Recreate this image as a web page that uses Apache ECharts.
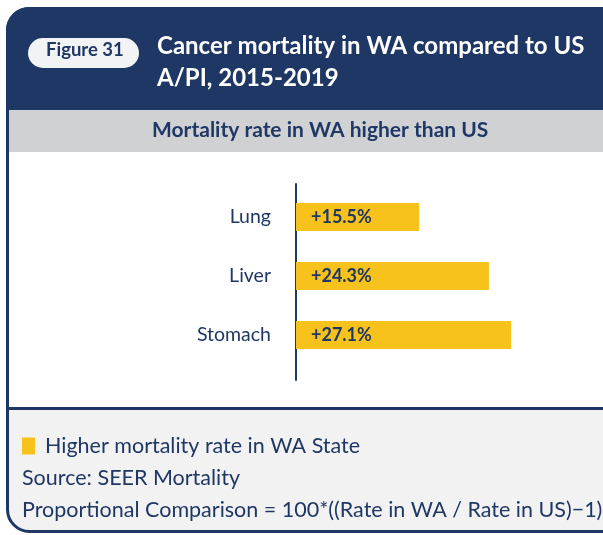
<!DOCTYPE html>
<html>
<head>
<meta charset="utf-8">
<script src="https://cdn.jsdelivr.net/npm/echarts@6/dist/echarts.min.js"></script>
<style>
  html, body { margin: 0; padding: 0; background: #fff; }
  #chart { width: 603px; height: 535px; }
</style>
</head>
<body>
<div id="chart"></div>
<script>
// data
const categories = ['Lung', 'Liver', 'Stomach'];
const values = [15.5, 24.3, 27.1];
const seriesName = 'Higher mortality rate in WA State';

const NAVY = '#1f3765';
const YELLOW = '#f6c21b';
const FONT = 'Lato';

const chart = echarts.init(document.getElementById('chart'));

const option = {
    animation: false,
    textStyle: {fontFamily: FONT},
    graphic: [
        // card frame + footer background
        {type: 'rect', z: -10, shape: {x: 7.5, y: 8.5, width: 660, height: 523, r: 22},
            style: {fill: '#f2f2f2', stroke: NAVY, lineWidth: 3}},
        // header
        {type: 'rect', z: -9, shape: {x: 6, y: 7, width: 660, height: 103, r: [23, 0, 0, 0]},
            style: {fill: NAVY}},
        // grey subtitle band
        {type: 'rect', z: -9, shape: {x: 9, y: 110, width: 660, height: 42},
            style: {fill: '#d0d1d3'}},
        // white plot area
        {type: 'rect', z: -9, shape: {x: 9, y: 152, width: 660, height: 256},
            style: {fill: '#ffffff'}},
        // divider
        {type: 'line', z: -8, shape: {x1: 6, y1: 408.5, x2: 603, y2: 408.5},
            style: {stroke: NAVY, lineWidth: 3}},
        // figure pill
        {type: 'rect', z: -8, shape: {x: 28, y: 38, width: 111, height: 30, r: 15},
            style: {fill: '#f2f3f5'}},
    ],
    title: [
        {
            text: 'Figure 31', left: 46, top: 41, padding: 0,
            textStyle: {color: NAVY, fontSize: 18.5, fontWeight: 'bold', fontFamily: FONT},
        },
        {
            text: 'Cancer mortality in WA compared to US\nA/PI, 2015-2019', left: 157, top: 30, padding: 0,
            textStyle: {color: '#fff', fontSize: 24, fontWeight: 'bold', lineHeight: 32, fontFamily: FONT},
        },
        {
            text: 'Mortality rate in WA higher than US', left: 152, top: 120, padding: 0,
            textStyle: {color: NAVY, fontSize: 21, fontWeight: 'bold', fontFamily: FONT},
        },
        {
            text: 'Source: SEER Mortality\nProportional Comparison = 100*((Rate in WA / Rate in US)\u22121)',
            left: 22, top: 462, padding: 0,
            textStyle: {color: NAVY, fontSize: 21.5, fontWeight: 'normal', lineHeight: 32, fontFamily: FONT},
        },
    ],
    legend: {
        left: 22, top: 435, padding: 0,
        icon: 'rect', itemWidth: 13, itemHeight: 17,
        data: [seriesName],
        textStyle: {color: NAVY, fontSize: 21.5, fontFamily: FONT, padding: [0, 0, 0, 5]},
    },
    grid: [
        {left: 296, top: 187.5, width: 238.2, height: 177},
        {left: 296, top: 184, width: 238.2, height: 196},
    ],
    xAxis: [
        {type: 'value', gridIndex: 0, min: 0, max: 30, show: false},
        {type: 'value', gridIndex: 1, min: 0, max: 30, show: false},
    ],
    yAxis: [
        {
            type: 'category', gridIndex: 0, data: categories, inverse: true,
            axisLine: {show: false}, axisTick: {show: false},
            axisLabel: {margin: 25, color: NAVY, fontSize: 19.5, fontFamily: FONT},
        },
        {
            type: 'value', gridIndex: 1, min: 0, max: 1,
            axisLine: {show: true, lineStyle: {color: NAVY, width: 2}},
            axisTick: {show: false}, axisLabel: {show: false}, splitLine: {show: false},
        },
    ],
    series: [
        {
            name: seriesName,
            type: 'bar',
            xAxisIndex: 0, yAxisIndex: 0,
            data: values,
            barWidth: 28,
            itemStyle: {color: YELLOW},
            label: {
                show: true, position: 'insideLeft', distance: 15,
                formatter: p => '+' + p.value.toFixed(1) + '%',
                color: NAVY, fontSize: 18, fontWeight: 'bold', fontFamily: FONT,
            },
        },
    ],
};

chart.setOption(option);
</script>
</body>
</html>
